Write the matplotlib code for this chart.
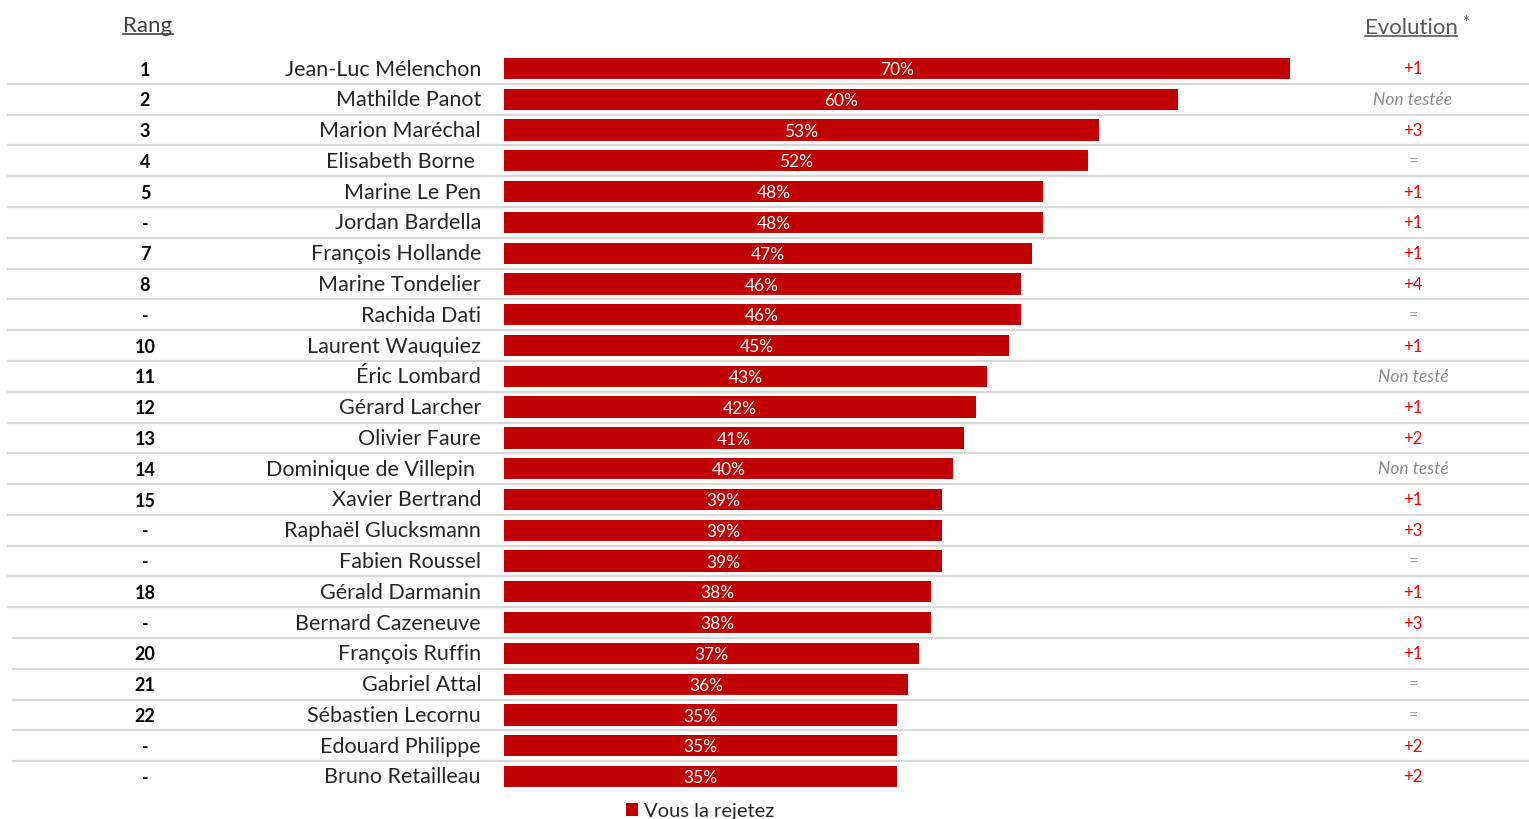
import matplotlib
matplotlib.use("Agg")
import matplotlib.pyplot as plt
from matplotlib.lines import Line2D

plt.rcParams['font.family'] = ['Lato', 'DejaVu Sans']

# Data
ranks = ['1', '2', '3', '4', '5', '-', '7', '8', '-', '10', '11', '12', '13', '14',
         '15', '-', '-', '18', '-', '20', '21', '22', '-', '-']
names = ['Jean-Luc Mélenchon', 'Mathilde Panot', 'Marion Maréchal', 'Elisabeth Borne ',
         'Marine Le Pen', 'Jordan Bardella', 'François Hollande', 'Marine Tondelier',
         'Rachida Dati', 'Laurent Wauquiez', 'Éric Lombard', 'Gérard Larcher',
         'Olivier Faure', 'Dominique de Villepin ', 'Xavier Bertrand', 'Raphaël Glucksmann',
         'Fabien Roussel', 'Gérald Darmanin', 'Bernard Cazeneuve', 'François Ruffin',
         'Gabriel Attal', 'Sébastien Lecornu', 'Edouard Philippe', 'Bruno Retailleau']
rejet = [70, 60, 53, 52, 48, 48, 47, 46, 46, 45, 43, 42, 41, 40, 39, 39, 39, 38, 38,
         37, 36, 35, 35, 35]
evolution = ['+1', 'Non testée', '+3', '=', '+1', '+1', '+1', '+4', '=', '+1', 'Non testé',
             '+1', '+2', 'Non testé', '+1', '+3', '=', '+1', '+3', '+1', '=', '=', '+2', '+2']

W, H = 1529, 820
fig = plt.figure(figsize=(W / 100, H / 100), dpi=100)
ax = fig.add_axes([0, 0, 1, 1])

# bar scale: 0% at px 504, 70% at px 1290 ; rows start at px 69, step 30.78
pxu = (1290 - 504) / 70
step = (776 - 68) / 23
ax.set_xlim(-504 / pxu, (W - 504) / pxu)
ax.set_ylim((H - 69.5) / step, -69.5 / step)
ax.axis('off')

y = list(range(len(names)))
bars = ax.barh(y, rejet, height=0.69, color='#C00000', label='Vous la rejetez')

tr = ax.get_yaxis_transform()
for i in y:
    ax.text(rejet[i] / 2, i + 0.02, f'{rejet[i]}%', color='white', fontsize=12.5,
            ha='center', va='center')
    ax.text(481 / W, i, names[i], color='#262626', fontsize=15.5, ha='right',
            va='center', transform=tr)
    ax.text(145 / W, i + 0.02, ranks[i], color='black', fontsize=13, fontweight='bold',
            ha='center', va='center', transform=tr)
    ev = evolution[i]
    if ev.startswith('Non'):
        ax.text(1413 / W, i - 0.02, ev, color='#8C8C8C', fontsize=12.5, style='italic',
                ha='center', va='center', transform=tr)
    elif ev == '=':
        ax.text(1413 / W, i + 0.02, ev, color='#9A9A9A', fontsize=11.5,
                ha='center', va='center', transform=tr)
    else:
        ax.text(1413 / W, i + 0.0, ev, color='#FF0000', fontsize=12,
                ha='center', va='center', transform=tr)
    if i < len(names) - 1:
        x0 = 8 / W if i < 18 else 13 / W
        ax.plot([x0, 1], [i + 0.5, i + 0.5], color='#D9D9D9', lw=1.6, transform=tr,
                zorder=0)

# column headers
h1 = ax.text(148 / W, -1.42, 'Rang', color='#404040', fontsize=16, ha='center',
             va='center', transform=tr)
h2 = ax.text(1411 / W, -1.34, 'Evolution', color='#595959', fontsize=16, ha='center',
             va='center', transform=tr)
ax.text(1466 / W, -1.5, '*', color='#595959', fontsize=12, ha='center',
        va='center', transform=tr)

# underline headers
fig.canvas.draw()
rend = fig.canvas.get_renderer()
for t, c in [(h1, '#404040'), (h2, '#595959')]:
    bb = t.get_window_extent(rend)
    yy = bb.y0 + 1
    fig.add_artist(Line2D([bb.x0 / W, bb.x1 / W], [yy / H, yy / H], color=c, lw=1.2))

ax.legend(handles=[bars], loc='center', bbox_to_anchor=(700 / W, 1 - 812 / H),
          frameon=False, fontsize=14.5, handlelength=0.6, handleheight=0.6,
          handletextpad=0.3, labelcolor='#262626')

fig.savefig('out.png', dpi=100)
